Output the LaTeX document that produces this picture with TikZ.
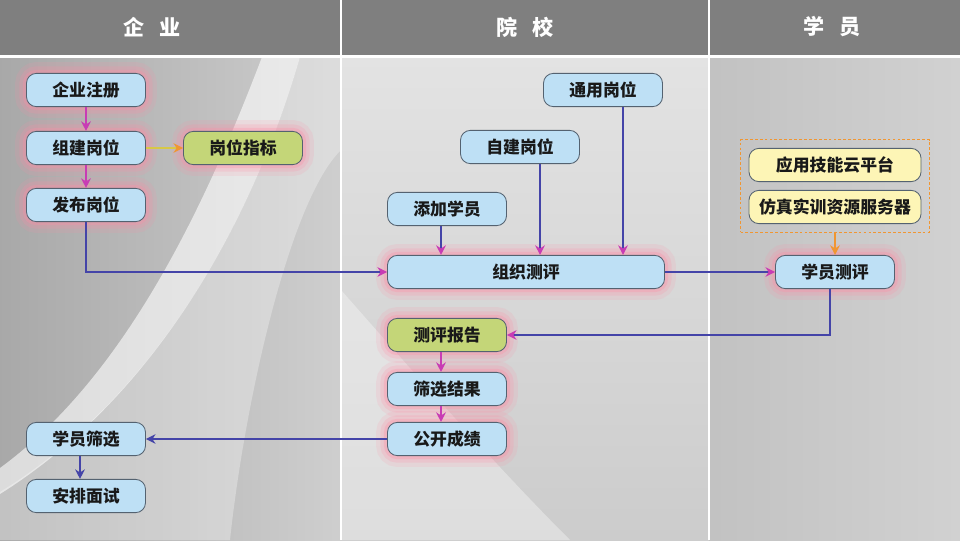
\documentclass[tikz,border=0pt]{standalone}
\usepackage{fontspec}
\setmainfont{Noto Sans CJK SC}
\usepackage{tikz}
\usetikzlibrary{arrows.meta, positioning, fit, calc}
\definecolor{headgray}{RGB}{127,127,127}
\definecolor{boxblue}{RGB}{190,224,245}
\definecolor{boxgreen}{RGB}{196,214,120}
\definecolor{boxyellow}{RGB}{253,245,182}
\definecolor{boxedge}{RGB}{84,98,112}
\definecolor{glowpink}{RGB}{255,140,165}
\definecolor{linkblue}{RGB}{68,68,168}
\definecolor{tipmagenta}{RGB}{200,60,180}
\definecolor{resorange}{RGB}{240,150,50}
\definecolor{linkyellow}{RGB}{215,200,70}

\begin{document}
\begin{tikzpicture}[x=0.025cm, y=-0.025cm,
    procbox/.style={rectangle, rounded corners=7pt, draw=boxedge, fill=boxblue, line width=0.6pt,
                    minimum width=2.975cm, minimum height=0.83cm, inner sep=0pt,
                    font=\fontsize{12}{14}\selectfont\bfseries, text=black!90},
    procgreen/.style={procbox, fill=boxgreen},
    procyellow/.style={procbox, fill=boxyellow, minimum width=4.3cm},
    glow/.style={preaction={draw=glowpink, line width=16pt, opacity=0.14},
                 preaction={draw=glowpink, line width=10pt, opacity=0.2},
                 preaction={draw=glowpink, line width=5pt, opacity=0.3}},
    headtext/.style={font=\fontsize{15}{17}\selectfont\bfseries, text=white},
    magline/.style={draw=tipmagenta, line width=1.3pt, -{Stealth[length=2.4mm, width=2.4mm]}},
    blueline/.style={draw=linkblue, line width=1.3pt, -{Stealth[length=2.4mm, width=2.4mm, color=tipmagenta]}},
    bluefull/.style={draw=linkblue, line width=1.3pt, -{Stealth[length=2.4mm, width=2.4mm]}},
    orangeline/.style={draw=resorange, line width=1.3pt, -{Stealth[length=2.4mm, width=2.4mm]}},
    resbox/.style={draw=resorange, dash pattern=on 2pt off 1.5pt, line width=0.7pt, inner sep=0.2cm}
]
\useasboundingbox (0,0) rectangle (960,540);

% Background
\fill[gray!42] (0,57) rectangle (960,540);
\shade[left color=gray!68, right color=gray!38] (0,57) rectangle (341,540);
\shade[top color=gray!22, bottom color=gray!40] (341,57) rectangle (709,540);
\shade[left color=gray!48, right color=gray!36] (709,57) rectangle (960,540);
\fill[white, opacity=0.3] (300,57) .. controls (250,230) and (150,400) .. (0,492) -- (0,540) -- (230,540) .. controls (245,400) and (290,200) .. (341,150) -- (341,57) -- cycle;
\fill[white, opacity=0.6] (262,57) .. controls (200,220) and (120,380) .. (0,468) -- (0,494) .. controls (150,400) and (250,230) .. (300,57) -- cycle;
\fill[white, opacity=0.35] (341,290) .. controls (420,380) and (500,470) .. (570,540) -- (341,540) -- cycle;

% Header
\fill[headgray] (0,0) rectangle (960,55);
\draw[white, line width=1.8pt] (0,56.5) -- (960,56.5);
\draw[white, line width=1.8pt] (341,0) -- (341,540);
\draw[white, line width=1.8pt] (709,0) -- (709,540);
\node[headtext] (headfirm) at (152,27) {企\hspace{0.7em}业};
\node[headtext] (headschool) at (525,27) {院\hspace{0.7em}校};
\node[headtext] (headstudent) at (832,27) {学\hspace{0.7em}员};

% Enterprise column
\node[procbox, glow] (register) at (86,90) {企业注册};
\node[procbox, glow] (build) at (86,148) {组建岗位};
\node[procbox, glow] (publish) at (86,205) {发布岗位};
\node[procgreen, glow] (indicator) at (243,148) {岗位指标};
\node[procbox] (stufilter) at (86,439) {学员筛选};
\node[procbox] (interview) at (86,496) {安排面试};

% School column
\node[procbox] (generic) at (603,90) {通用岗位};
\node[procbox] (custom) at (520,147) {自建岗位};
\node[procbox] (addstu) at (447,209) {添加学员};
\node[procbox, glow, minimum width=6.925cm] (organize) at (526,272) {组织测评};
\node[procgreen, glow] (report) at (447,335) {测评报告};
\node[procbox, glow] (filter) at (447,389) {筛选结果};
\node[procbox, glow] (publicize) at (447,439) {公开成绩};

% Student column
\node[procyellow] (cloud) at (835,165) {应用技能云平台};
\node[procyellow] (simserver) at (835,207) {仿真实训资源服务器};
\node[resbox, fit=(cloud)(simserver)] (resources) {};
\node[procbox, glow] (stueval) at (835,272) {学员测评};

% Arrows
\draw[magline] (register) -- (build);
\draw[magline] (build) -- (publish);
\draw[draw=linkyellow, line width=1.3pt, -{Stealth[length=2.4mm, width=2.4mm, color=resorange]}] (build) -- (indicator);
\draw[blueline] (publish) |- (organize);
\draw[blueline] ([xshift=-0.15cm]addstu.south) -- ([xshift=-0.15cm]addstu.south |- organize.north);
\draw[blueline] ([xshift=0.5cm]custom.south) -- ([xshift=0.5cm]custom.south |- organize.north);
\draw[blueline] ([xshift=0.5cm]generic.south) -- ([xshift=0.5cm]generic.south |- organize.north);
\draw[blueline] (organize) -- (stueval);
\draw[orangeline] (resources) -- (stueval);
\draw[blueline] ([xshift=-0.125cm]stueval.south) |- (report);
\draw[magline] ([xshift=-0.15cm]report.south) -- ([xshift=-0.15cm]filter.north);
\draw[magline] ([xshift=-0.15cm]filter.south) -- ([xshift=-0.15cm]publicize.north);
\draw[bluefull] (publicize) -- (stufilter);
\draw[bluefull] ([xshift=-0.15cm]stufilter.south) -- ([xshift=-0.15cm]interview.north);

\end{tikzpicture}
\end{document}
